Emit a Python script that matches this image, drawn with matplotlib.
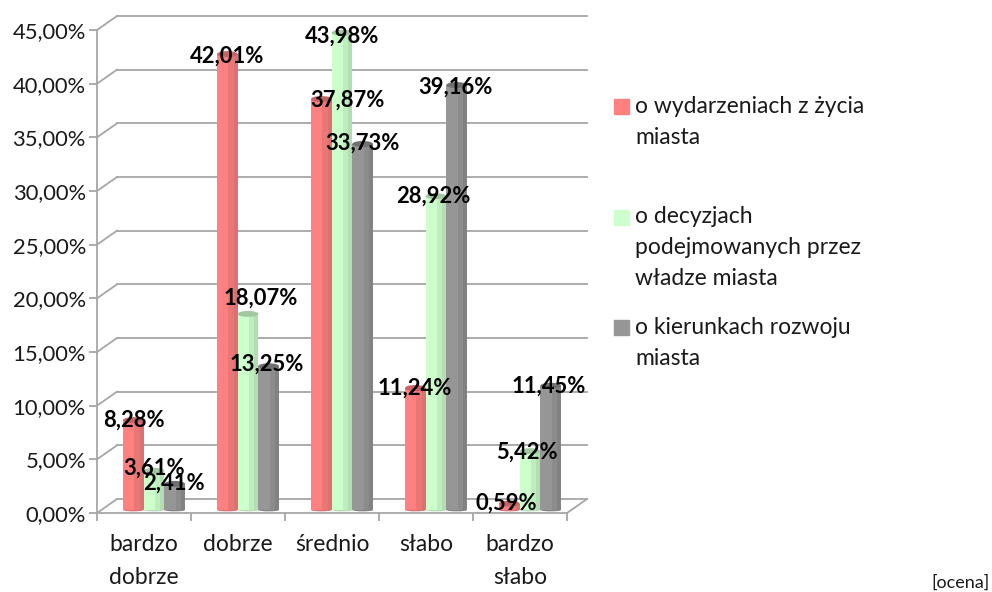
import matplotlib
matplotlib.use("Agg")
import matplotlib.pyplot as plt
from matplotlib.patches import Ellipse
from matplotlib.transforms import Affine2D

categories = ["bardzo\ndobrze", "dobrze", "średnio", "słabo", "bardzo\nsłabo"]
series_names = ["o wydarzeniach z życia\nmiasta",
                "o decyzjach\npodejmowanych przez\nwładze miasta",
                "o kierunkach rozwoju\nmiasta"]
wydarzenia = [8.28, 42.01, 37.87, 11.24, 0.59]
decyzje = [3.61, 18.07, 43.98, 28.92, 5.42]
kierunki = [2.41, 13.25, 33.73, 39.16, 11.45]
y_ticks = [0, 5, 10, 15, 20, 25, 30, 35, 40, 45]

# kolory pasow walca: jasny, sredni, ciemny oraz wierzch
shades = [("#FF8080", "#EA7676", "#DD7070", "#C46464"),
          ("#CCFFCC", "#BEEDBE", "#B2DEB2", "#A2C8A2"),
          ("#969696", "#8C8C8C", "#828282", "#707070")]

# przesuniecia etykiet wzgledem wierzcholka slupka (piksele)
label_shift = [[(1, 0), (0, -2), (26, -1), (-1, 0), (-3, 0)],
               [(0, 3), (13, 16), (0, -3), (-3, 0), (-3, -1)],
               [(-1, 1), (-2, 2), (0, 1), (-1, -2), (-2, 0)]]

plt.rcParams["font.family"] = ["Lato", "DejaVu Sans"]
GRID = "#A6A6A6"

fig = plt.figure(figsize=(9.92, 5.92), dpi=100)
ax = fig.add_axes([97 / 992, (592 - 513) / 592, 470 / 992, 483 / 592])
ax.set_xlim(0, 5)
ax.set_ylim(0, 45)
ax.patch.set_visible(False)
for s in ax.spines.values():
    s.set_visible(False)

back = ax.transData + Affine2D().translate(20, 14)
# slupki stoja nieco glebiej i sa lekko wyzsze niz skala na osi
mid = ax.transData + Affine2D().translate(0, -79).scale(1, 1.011).translate(10, 82)

# siatka na tylnej scianie i na lewym boku
for v in y_ticks:
    ax.plot([0, 5], [v, v], color=GRID, lw=1.3, transform=back, clip_on=False, zorder=1)
    p0 = ax.transData.transform((0, v))
    ax.plot([p0[0], p0[0] + 20], [p0[1], p0[1] + 14], color=GRID, lw=1.3,
            transform=None, clip_on=False, zorder=1)
p1 = ax.transData.transform((5, 0))
ax.plot([p1[0], p1[0] + 20], [p1[1], p1[1] + 14], color=GRID, lw=1.3,
        transform=None, clip_on=False, zorder=1)

# slupki
bar_w = 0.22
all_values = [wydarzenia, decyzje, kierunki]
for s, values in enumerate(all_values):
    light, middle, dark, top = shades[s]
    for i, v in enumerate(values):
        x0 = i + 0.5 + (s - 1) * bar_w
        left = x0 - bar_w / 2
        z = 3 + s
        for frac0, frac1, col in [(0, 0.55, light), (0.55, 0.8, middle), (0.8, 1, dark)]:
            ax.bar(left + frac0 * bar_w, v, width=(frac1 - frac0) * bar_w, align="edge",
                   color=col, lw=0, transform=mid, clip_on=False, zorder=z)
        ax.add_patch(Ellipse((x0, v), bar_w, 0.55, facecolor=top, lw=0, transform=mid,
                             clip_on=False, zorder=z))
        ax.add_patch(Ellipse((x0, 0), bar_w, 0.25, facecolor=dark, lw=0, transform=mid,
                             clip_on=False, zorder=z - 0.5))

# etykiety danych
for s, values in enumerate(all_values):
    for i, v in enumerate(values):
        x0 = i + 0.5 + (s - 1) * bar_w
        px, py = mid.transform((x0, v))
        dx, dy = label_shift[s][i]
        ax.text(px + dx, py + dy, f"{v:.2f}%".replace(".", ","), transform=None,
                ha="center", va="center", fontsize=15.8, fontweight="bold",
                color="black", zorder=10, clip_on=False)

# osie
ax.set_xticks(range(6))
ax.set_xticklabels([])
ax.set_yticks(y_ticks)
ax.set_yticklabels([f"{v:.2f}%".replace(".", ",") for v in y_ticks], fontsize=15.8, color="#1A1A1A")
ax.tick_params(axis="both", color=GRID, width=1.3, length=6)
ax.tick_params(axis="y", pad=2)
ax.spines["left"].set_visible(True)
ax.spines["left"].set_color(GRID)
ax.spines["left"].set_linewidth(1.3)
ax.spines["bottom"].set_visible(True)
ax.spines["bottom"].set_color(GRID)
ax.spines["bottom"].set_linewidth(1.3)
for i, c in enumerate(categories):
    ax.text(i + 0.5, -2.0, c, ha="center", va="top", fontsize=16.5, color="#1A1A1A", linespacing=1.69)

# legenda
leg_text_y = [108, 218, 329]
leg_box_bottom = [114, 225, 335]
for k, name in enumerate(series_names):
    fig.patches.append(plt.Rectangle((614 / 992, 1 - leg_box_bottom[k] / 592), 15 / 992, 15 / 592,
                                     transform=fig.transFigure, color=shades[k][0]))
    fig.text(635 / 992, 1 - (leg_text_y[k] - 12) / 592, name, ha="left", va="top", fontsize=16.5,
             color="#1A1A1A", linespacing=1.58)

fig.text(990 / 992, 1 - 583 / 592, "[ocena]", ha="right", va="center", fontsize=13, color="#1A1A1A")

fig.savefig("out.png", dpi=100)
